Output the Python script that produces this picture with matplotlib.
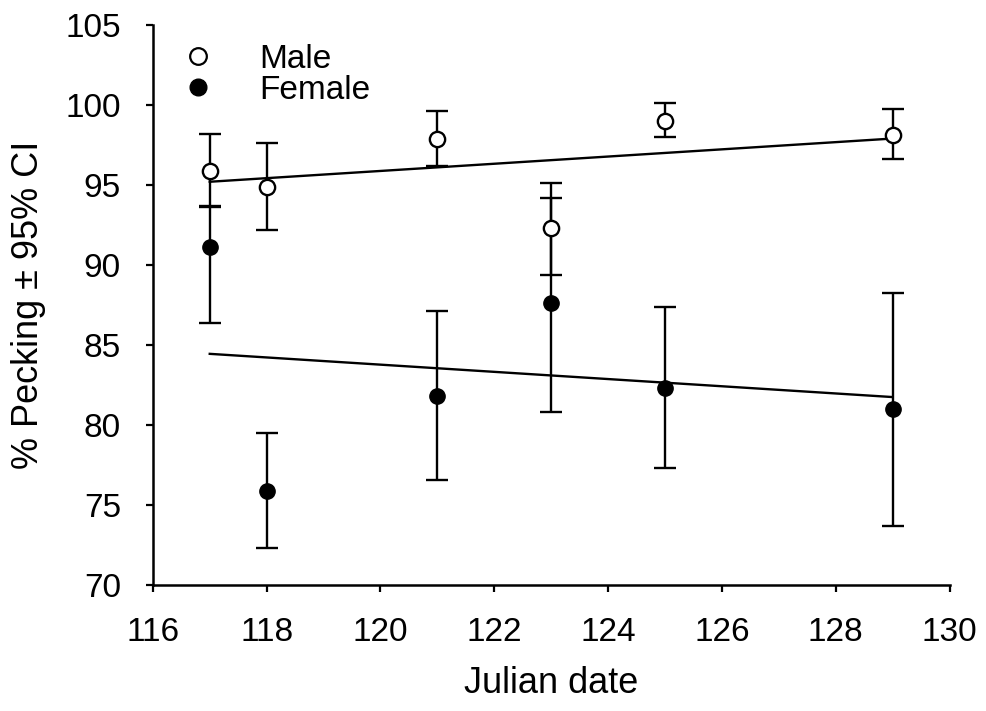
import matplotlib.pyplot as plt
from matplotlib.lines import Line2D
import numpy as np

plt.rcParams['font.family'] = ['Liberation Sans', 'DejaVu Sans']

# Julian dates
days = [117, 118, 121, 123, 125, 129]

# male % pecking with 95% CI bounds
male = [95.9, 94.9, 97.9, 92.3, 99.0, 98.1]
male_lo = [93.7, 92.2, 96.2, 89.4, 98.0, 96.6]
male_hi = [98.2, 97.6, 99.6, 95.1, 100.1, 99.75]

# female % pecking with 95% CI bounds
female = [91.1, 75.9, 81.8, 87.6, 82.3, 81.0]
female_lo = [86.4, 72.3, 76.6, 80.8, 77.3, 73.7]
female_hi = [93.6, 79.5, 87.1, 94.2, 87.4, 88.25]

# fitted regression lines (end points)
fit_x = [117, 129]
male_fit = [95.2, 97.9]
female_fit = [84.45, 81.75]

fig = plt.figure(figsize=(9.86, 7.11), dpi=100)
ax = fig.add_axes([0.155, 0.177, 0.808, 0.788])

m = np.array(male)
f = np.array(female)
merr = [m - np.array(male_lo), np.array(male_hi) - m]
ferr = [f - np.array(female_lo), np.array(female_hi) - f]

ax.plot(fit_x, male_fit, color='black', lw=1.7, zorder=2)
ax.plot(fit_x, female_fit, color='black', lw=1.7, zorder=2)

ax.errorbar(days, female, yerr=ferr, fmt='o', color='black', mfc='black',
            mec='black', ms=11, ecolor='black', elinewidth=1.7, capsize=8,
            capthick=1.7, zorder=3)
ax.errorbar(days, male, yerr=merr, fmt='o', color='black', mfc='white',
            mec='black', mew=1.7, ms=11, ecolor='black', elinewidth=1.7,
            capsize=8, capthick=1.7, zorder=4)

ax.set_xlim(116, 130)
ax.set_ylim(70, 105)
ax.set_xticks(np.arange(116, 131, 2))
ax.set_yticks(np.arange(70, 106, 5))
ax.tick_params(direction='out', length=5, width=1.6, labelsize=24)
ax.tick_params(axis='y', pad=18)
ax.tick_params(axis='x', pad=18)

for s in ['top', 'right']:
    ax.spines[s].set_visible(False)
for s in ['left', 'bottom']:
    ax.spines[s].set_linewidth(1.8)

ax.set_xlabel('Julian date', fontsize=26, labelpad=13)
ax.set_ylabel('% Pecking ± 95% CI', fontsize=26, labelpad=14)

handles = [
    Line2D([], [], ls='none', marker='o', mfc='white', mec='black', mew=1.6, ms=12),
    Line2D([], [], ls='none', marker='o', mfc='black', mec='black', ms=12),
]
ax.legend(handles, ['Male', 'Female'], loc='upper left', bbox_to_anchor=(0.006, 1.008),
          frameon=False, fontsize=24, handletextpad=1.35, labelspacing=0.0,
          handlelength=1.0, borderaxespad=0.3)

fig.savefig('out.png', dpi=100)
